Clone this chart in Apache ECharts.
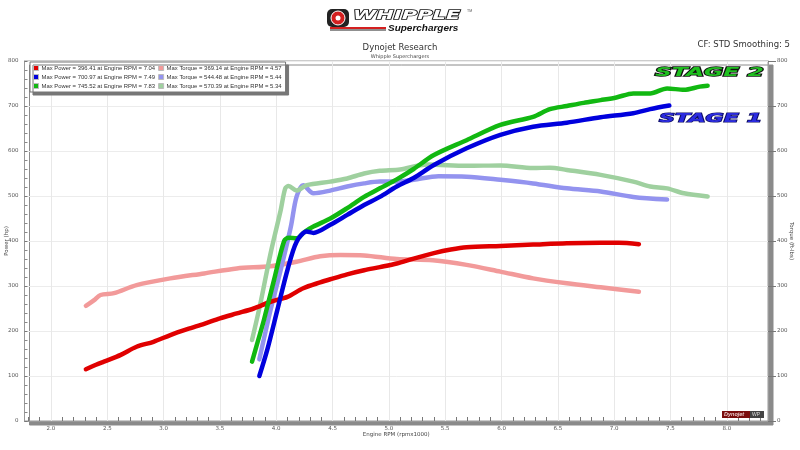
<!DOCTYPE html>
<html><head><meta charset="utf-8">
<script src="https://cdn.jsdelivr.net/npm/echarts@6/dist/echarts.min.js"></script>
<style>html,body{margin:0;padding:0;background:#fff}#c{width:800px;height:450px}</style>
</head><body><div id="c"></div>
<script>
// ---- data ----
const legendNames = [
  'Max Power = 396.41 at Engine RPM = 7.04',
  'Max Power = 700.97 at Engine RPM = 7.49',
  'Max Power = 745.52 at Engine RPM = 7.83',
  'Max Torque = 369.14 at Engine RPM = 4.57',
  'Max Torque = 544.48 at Engine RPM = 5.44',
  'Max Torque = 570.39 at Engine RPM = 5.34'
];
const stockPowerRpm = [2.31,2.40,2.47,2.62,2.76,2.91,3.06,3.21,3.36,3.50,3.65,3.80,3.95,4.10,4.24,4.39,4.48,4.63,4.78,4.92,5.07,5.22,5.40,5.55,5.69,5.99,6.28,6.58,6.88,7.04,7.22];
const stockPowerHp  = [115,125,132,147,165,176,191,204,216,228,239,250,265,276,295,308,315,326,335,342,350,361,373,381,386,389,392,395,396,396,393];
const stockTorqueRpm = [2.31,2.38,2.44,2.56,2.76,3.06,3.36,3.65,3.95,4.18,4.39,4.57,4.78,5.07,5.39,5.69,5.99,6.28,6.58,6.88,7.22];
const stockTorqueFt  = [256,268,280,284,302,317,328,339,344,354,366,369,368,360,357,347,332,317,306,297,287];
const stage1PowerRpm = [3.85,3.92,4.01,4.10,4.18,4.27,4.33,4.48,4.63,4.78,4.92,5.07,5.22,5.40,5.69,5.99,6.28,6.58,6.88,7.17,7.32,7.49];
const stage1PowerHp  = [100,158,247,336,398,421,418,436,458,480,498,521,540,569,606,636,654,663,675,684,693,701];
const stage1TorqueRpm = [3.85,3.95,4.04,4.13,4.18,4.24,4.33,4.48,4.63,4.78,4.92,5.07,5.22,5.44,5.69,5.99,6.28,6.58,6.88,7.17,7.47];
const stage1TorqueFt  = [137,247,336,432,498,524,506,512,521,528,532,532,536,544,543,536,528,517,510,498,492];
const stage2PowerRpm = [3.785,3.84,3.89,3.98,4.07,4.11,4.18,4.25,4.33,4.48,4.63,4.78,4.92,5.07,5.22,5.40,5.69,5.99,6.28,6.43,6.58,6.73,6.88,7.02,7.17,7.32,7.47,7.62,7.76,7.83];
const stage2PowerHp  = [132,180,224,313,400,407,406,420,432,450,473,498,517,537,560,591,624,658,676,693,700,707,713,719,728,728,739,736,743,745];
const stage2TorqueRpm = [3.785,3.86,3.95,4.04,4.08,4.11,4.18,4.27,4.48,4.63,4.78,4.92,5.10,5.34,5.69,5.99,6.28,6.43,6.58,6.88,7.17,7.32,7.47,7.62,7.83];
const stage2TorqueFt  = [180,262,373,469,517,522,512,524,532,539,550,556,559,570,567,568,562,563,558,547,532,521,517,506,499];
const xLabelValues = [2.0,2.5,3.0,3.5,4.0,4.5,5.0,5.5,6.0,6.5,7.0,7.5,8.0];
const xTickValues = [1.8,1.9,2.0,2.1,2.2,2.3,2.4,2.5,2.6,2.7,2.8,2.9,3.0,3.1,3.2,3.3,3.4,3.5,3.6,3.7,3.8,3.9,4.0,4.1,4.2,4.3,4.4,4.5,4.6,4.7,4.8,4.9,5.0,5.1,5.2,5.3,5.4,5.5,5.6,5.7,5.8,5.9,6.0,6.1,6.2,6.3,6.4,6.5,6.6,6.7,6.8,6.9,7.0,7.1,7.2,7.3,7.4,7.5,7.6,7.7,7.8,7.9,8.0,8.1,8.2,8.3];

const zip = (a, b) => a.map((v, i) => [v, b[i]]);
const FONT = 'DejaVu Sans';

function line(name, rpm, vals, color, yIdx, z) {
  return {
    name, type: 'line', data: zip(rpm, vals), yAxisIndex: yIdx, z,
    showSymbol: false, smooth: 0.3, color,
    lineStyle: { color, width: 4.5, cap: 'round', join: 'round' }
  };
}

const chart = echarts.init(document.getElementById('c'), null, { renderer: 'canvas' });
chart.setOption({
  animation: false,
  backgroundColor: '#fff',
  textStyle: { fontFamily: FONT },
  title: {
    text: 'Dynojet Research', subtext: 'Whipple Superchargers',
    left: 'center', top: 38, itemGap: 2,
    textStyle: { fontSize: 8.5, fontWeight: 'normal', color: '#333', fontFamily: FONT },
    subtextStyle: { fontSize: 5, color: '#444', fontFamily: FONT }
  },
  grid: {
    left: 24.5, right: 32, top: 61, bottom: 29, show: true,
    outerBoundsMode: 'none', containLabel: false,
    backgroundColor: '#fff', borderColor: '#999', borderWidth: 1,
    shadowColor: '#8a8a8a', shadowOffsetX: 5, shadowOffsetY: 4, shadowBlur: 0
  },
  legend: {
    data: legendNames, orient: 'vertical', left: 30, top: 62, height: 27,
    itemWidth: 5, itemHeight: 5, itemGap: 3, padding: [3, 4, 3, 3],
    backgroundColor: '#fff', borderColor: '#777', borderWidth: 1,
    shadowColor: '#777', shadowOffsetX: 3, shadowOffsetY: 3, shadowBlur: 0,
    icon: 'rect', itemStyle: { borderColor: '#bbb', borderWidth: 1 },
    textStyle: { fontSize: 5.9, color: '#333', fontFamily: 'Liberation Sans', padding: [0, 0, 0, -2] },
    selectedMode: false
  },
  xAxis: {
    type: 'value', min: 1.765, max: 8.366,
    name: 'Engine RPM (rpmx1000)', nameLocation: 'middle', nameGap: 11, nameMoveOverlap: false,
    nameTextStyle: { fontSize: 5.5, color: '#444' },
    axisLine: { lineStyle: { color: '#999' } },
    axisTick: { customValues: xTickValues, inside: true, length: 4, lineStyle: { color: '#777' } },
    axisLabel: { customValues: xLabelValues, formatter: v => v.toFixed(1), fontSize: 5.5, color: '#555', margin: 5 },
    splitLine: { show: false }
  },
  yAxis: [{
    type: 'value', min: 0, max: 800, interval: 100, position: 'left',
    name: 'Power (hp)', nameLocation: 'middle', nameGap: 15, nameRotate: 90, nameMoveOverlap: false,
    nameTextStyle: { fontSize: 5.5, color: '#444' },
    axisLine: { show: true, lineStyle: { color: '#999' } },
    axisTick: { show: true, inside: true, length: 3, lineStyle: { color: '#777' } },
    minorTick: { show: true, splitNumber: 5, length: 3, lineStyle: { color: '#888' } },
    axisLabel: { fontSize: 5.5, color: '#555', margin: 6 },
    splitLine: { show: true, lineStyle: { color: '#ececec', width: 1 } }
  }, {
    type: 'value', min: 0, max: 800, interval: 100, position: 'right',
    name: 'Torque (ft-lbs)', nameLocation: 'middle', nameGap: 20, nameRotate: -90, nameMoveOverlap: false,
    nameTextStyle: { fontSize: 5.5, color: '#444' },
    axisLine: { show: true, lineStyle: { color: '#999' } },
    axisTick: { show: true, inside: false, length: 8, lineStyle: { color: '#777' } },
    axisLabel: { fontSize: 5.5, color: '#555', margin: 9 },
    splitLine: { show: false }
  }],
  series: [
    {
      name: 'grid', type: 'line', data: [], z: 1, silent: true,
      markLine: {
        silent: true, symbol: ['none', 'none'], z: 1, animation: false,
        label: { show: false },
        lineStyle: { color: '#e8e8e8', width: 1, type: 'solid' },
        data: xLabelValues.map(v => ({ xAxis: v }))
      }
    },
    line(legendNames[3], stockTorqueRpm, stockTorqueFt, '#f29a9a', 1, 3),
    line(legendNames[4], stage1TorqueRpm, stage1TorqueFt, '#9393ef', 1, 3),
    line(legendNames[5], stage2TorqueRpm, stage2TorqueFt, '#9fd09f', 1, 3),
    line(legendNames[0], stockPowerRpm, stockPowerHp, '#e00000', 0, 4),
    line(legendNames[2], stage2PowerRpm, stage2PowerHp, '#11b811', 0, 4),
    line(legendNames[1], stage1PowerRpm, stage1PowerHp, '#0000dd', 0, 5)
  ],
  graphic: [
    // logo
    { type: 'rect', shape: { x: 327, y: 9, width: 22, height: 18, r: 5 }, style: { fill: '#222' } },
    { type: 'circle', shape: { cx: 338, cy: 18, r: 7 }, style: { fill: '#d42020', stroke: '#fff', lineWidth: 1 } },
    { type: 'circle', shape: { cx: 338, cy: 18, r: 2.5 }, style: { fill: '#fff' } },
    { type: 'text', x: 353, y: 15.5, scaleX: 1.62, style: { text: 'WHIPPLE', fontSize: 13, fontWeight: 'bold', fontStyle: 'italic', fontFamily: FONT, fill: '#fff', stroke: '#111', lineWidth: 1.3, verticalAlign: 'middle' } },
    { type: 'text', x: 467, y: 9, style: { text: 'TM', fontSize: 3.5, fill: '#555' } },
    { type: 'rect', shape: { x: 330, y: 27, width: 56, height: 2 }, style: { fill: '#d42020' } },
    { type: 'rect', shape: { x: 330, y: 29.5, width: 56, height: 1 }, style: { fill: '#222' } },
    { type: 'text', x: 388, y: 28, scaleX: 1.05, style: { text: 'Superchargers', fontSize: 9.5, fontWeight: 'bold', fontStyle: 'italic', fontFamily: 'Liberation Sans', fill: '#111', verticalAlign: 'middle' } },
    // header right
    { type: 'text', right: 10, top: 40, style: { text: 'CF: STD Smoothing: 5', fontSize: 8.5, fill: '#333', fontFamily: FONT } },
    // stage labels
    { type: 'text', x: 655, y: 73, scaleX: 1.95, z: 20, style: { text: 'STAGE 2', fontSize: 12, fontWeight: 'bold', fontStyle: 'italic', fontFamily: FONT, fill: '#1fc01f', stroke: '#111', lineWidth: 1.5, verticalAlign: 'middle' } },
    { type: 'text', x: 659, y: 119, scaleX: 1.85, z: 20, style: { text: 'STAGE 1', fontSize: 12, fontWeight: 'bold', fontStyle: 'italic', fontFamily: FONT, fill: '#2a2ae0', stroke: '#0a0a60', lineWidth: 1.2, verticalAlign: 'middle' } },
    // dynojet badge
    { type: 'rect', z: 20, shape: { x: 722, y: 411, width: 28, height: 7 }, style: { fill: '#7a0c0c' } },
    { type: 'text', z: 21, x: 724, y: 414.5, style: { text: 'Dynojet', fontSize: 5.5, fontStyle: 'italic', fontWeight: 'bold', fill: '#e9c9c9', verticalAlign: 'middle' } },
    { type: 'rect', z: 20, shape: { x: 750, y: 411, width: 14, height: 7 }, style: { fill: '#444' } },
    { type: 'text', z: 21, x: 752, y: 414.5, style: { text: 'WP', fontSize: 5, fill: '#ddd', verticalAlign: 'middle' } }
  ]
});
</script>
</body></html>
